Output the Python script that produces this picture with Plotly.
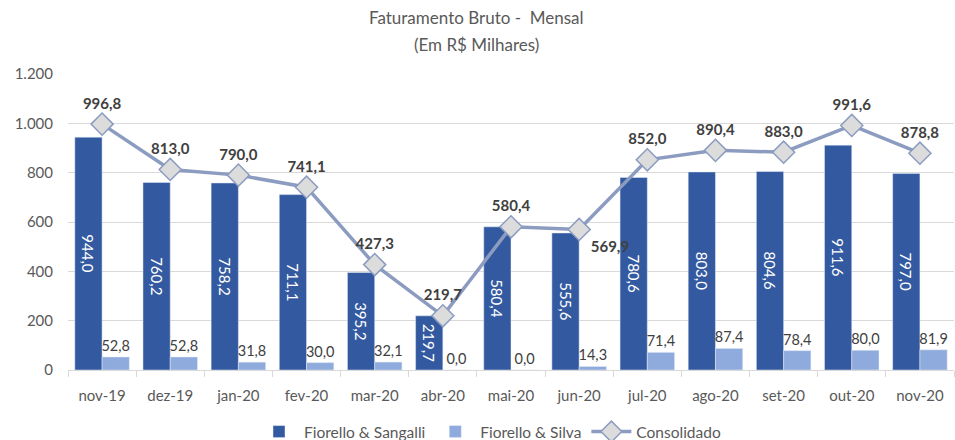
import plotly.graph_objects as go

categories = ["nov-19", "dez-19", "jan-20", "fev-20", "mar-20", "abr-20", "mai-20",
              "jun-20", "jul-20", "ago-20", "set-20", "out-20", "nov-20"]
sangalli = [944.0, 760.2, 758.2, 711.1, 395.2, 219.7, 580.4, 555.6, 780.6, 803.0, 804.6, 911.6, 797.0]
silva = [52.8, 52.8, 31.8, 30.0, 32.1, 0.0, 0.0, 14.3, 71.4, 87.4, 78.4, 80.0, 81.9]
consolidado = [996.8, 813.0, 790.0, 741.1, 427.3, 219.7, 580.4, 569.9, 852.0, 890.4, 883.0, 991.6, 878.8]
y_ticks = [0, 200, 400, 600, 800, 1000, 1200]
title_lines = ["Faturamento Bruto -  Mensal", "(Em R$ Milhares)"]

FONT = "Lato"
GRAY = "#595959"
PLOT_H = 296

line_pos = ["top center"] * len(categories)
line_pos[7] = "bottom right"

fig = go.Figure()
fig.add_trace(go.Bar(
    x=categories, y=sangalli, name="Fiorello & Sangalli",
    marker=dict(color="#335AA0"),
    texttemplate="%{y:.1f}", textposition="inside", insidetextanchor="middle",
    textangle=90, textfont=dict(color="white", size=15, family=FONT),
    constraintext="none",
))
fig.add_trace(go.Bar(
    x=categories, y=silva, name="Fiorello & Silva",
    marker=dict(color="#8FAADC"),
    texttemplate="%{y:.1f}", textposition="outside", textangle=0,
    textfont=dict(color="#404040", size=14.5, family=FONT),
    cliponaxis=False, constraintext="none",
))
fig.add_trace(go.Scatter(
    x=categories, y=consolidado, name="Consolidado",
    mode="lines+markers+text",
    line=dict(color="#8C9CC0", width=3.5),
    marker=dict(symbol="diamond", size=17, color="#DCDCDC",
                line=dict(color="#8C9CC0", width=1.5)),
    texttemplate="<b>%{y:.1f}</b>", textposition=line_pos,
    textfont=dict(color="#404040", size=15, family=FONT),
    cliponaxis=False,
))

for txt, ypix in zip(title_lines, [18, 44]):
    fig.add_annotation(
        text=txt, xref="paper", yref="paper", x=(476 - 68) / 886, xanchor="center",
        y=1 + (74 - ypix) / PLOT_H, yanchor="middle", showarrow=False,
        font=dict(size=17, color=GRAY, family=FONT),
    )

fig.update_layout(
    width=955, height=440,
    margin=dict(l=68, r=1, t=74, b=70, autoexpand=False),
    paper_bgcolor="white", plot_bgcolor="white",
    separators=",.",
    barmode="group", bargap=0.2, bargroupgap=0,
    font=dict(family=FONT, color=GRAY, size=14),
    legend=dict(orientation="h", x=(490 - 68) / 886, xanchor="center",
                y=-62 / PLOT_H, yanchor="middle",
                font=dict(size=15.5, color=GRAY, family=FONT), traceorder="normal",
                itemwidth=40),
    showlegend=True,
)
fig.update_xaxes(
    type="category", range=[-0.5, len(categories) - 0.5],
    showgrid=False, showline=True, linecolor="#D9D9D9", linewidth=1,
    ticks="outside", tickson="boundaries", ticklen=6, tickcolor="#D9D9D9",
    tickfont=dict(size=15, color=GRAY), automargin=False, ticklabelstandoff=12,
)
fig.update_yaxes(
    range=[0, 1200], tickvals=y_ticks, tickformat=",d",
    showgrid=True, gridcolor="#D9D9D9", gridwidth=1, zeroline=False,
    showline=False, tickfont=dict(size=15, color=GRAY), ticks="", ticklabelstandoff=14,
    automargin=False,
)

fig.write_html("out.html", config={"displayModeBar": False},
               post_script="document.body.style.margin='0';")
